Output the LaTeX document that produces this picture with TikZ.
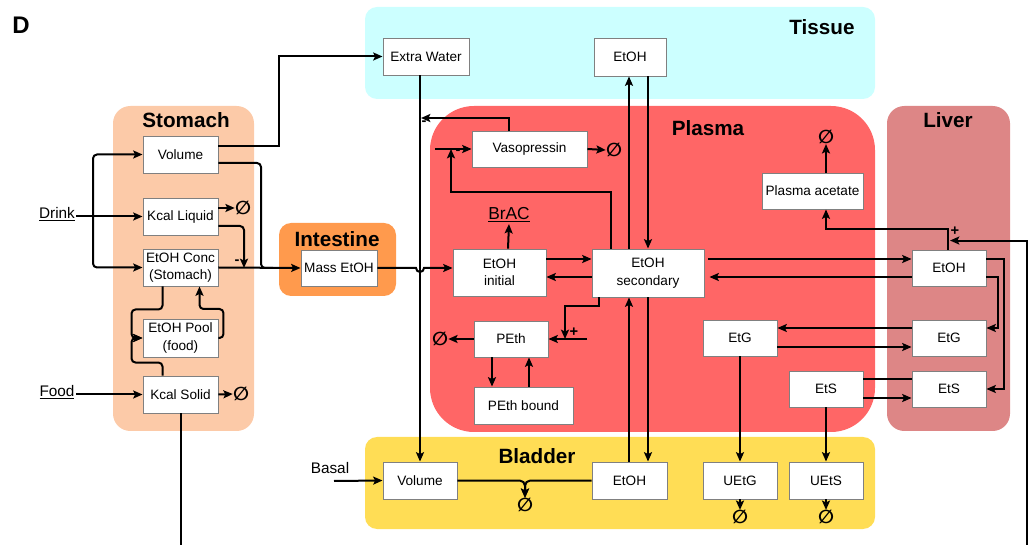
\documentclass[tikz,border=0pt]{standalone}
\usepackage{fontspec}
\setmainfont{Liberation Sans}
\newfontfamily\symfont{DejaVu Sans}
\usetikzlibrary{arrows.meta,calc}
\definecolor{tissuec}{HTML}{CCFFFF}
\definecolor{plasmac}{HTML}{FF6666}
\definecolor{liverc}{HTML}{DD8686}
\definecolor{stomachc}{HTML}{FCCAA8}
\definecolor{intestc}{HTML}{FF9A4D}
\definecolor{bladderc}{HTML}{FFDD55}
\tikzset{
  title/.style={font=\fontsize{15.5}{15.5}\selectfont\bfseries, inner sep=0pt},
  bx/.style 2 args={draw=black!50, line width=0.7pt, fill=white, minimum width=#1*0.75pt, minimum height=#2*0.75pt, inner sep=1pt, align=center, font=\fontsize{10.2}{13}\selectfont},
  conn/.style={line width=1.5pt},
  ar/.style={conn, -{Stealth[length=7pt,width=6pt,inset=1.4pt]}},
  rc/.style={rounded corners=3pt},
  phi/.style={font=\symfont\bfseries\fontsize{14}{14}\selectfont, inner sep=0pt},
  sgn/.style={font=\fontsize{11}{11}\selectfont\bfseries, inner sep=0pt},
  lbl/.style={font=\fontsize{11.5}{13}\selectfont, inner sep=1pt},
}
\begin{document}
\begin{tikzpicture}[x=0.75pt,y=-0.75pt]
\useasboundingbox (0,0) rectangle (1029,545);
% regions
\fill[tissuec, rounded corners=9pt] (365,7) rectangle (875,99);
\fill[plasmac, rounded corners=33pt] (430,106) rectangle (875,432);
\fill[liverc, rounded corners=13pt] (887,106) rectangle (1010,431);
\fill[stomachc, rounded corners=13pt] (113,106) rectangle (254,431);
\fill[intestc, rounded corners=9pt] (279,223) rectangle (396,296);
\fill[bladderc, rounded corners=9pt] (365,437) rectangle (875,529);
% titles
\node[font=\fontsize{18}{18}\selectfont\bfseries, inner sep=0pt] (lblD) at (21,25) {D};
\node[title] (tstom) at (186,120) {Stomach};
\node[title] (tint) at (337,239) {Intestine};
\node[title] (ttis) at (822,27) {Tissue};
\node[title] (tpla) at (708,128) {Plasma};
\node[title] (tliv) at (948,120) {Liver};
\node[title] (tbla) at (537,456) {Bladder};
% boxes
\node[bx={75}{37}] (vol) at (180.5,154.5) {Volume};
\node[bx={75}{37}] (kl) at (180.5,216.5) {Kcal Liquid};
\node[bx={75}{37}] (ec) at (180.5,267.5) {EtOH Conc\\(Stomach)};
\node[bx={75}{38}] (pool) at (180.5,338) {EtOH Pool\\(food)};
\node[bx={75}{37}] (ks) at (180.5,394.5) {Kcal Solid};
\node[bx={76}{36}] (mass) at (339,268) {Mass EtOH};
\node[bx={86}{37}] (ew) at (426,56.5) {Extra Water};
\node[bx={72}{38}] (te) at (630,57) {EtOH};
\node[bx={115}{36}] (vp) at (529.5,149) {Vasopressin};
\node[bx={93}{47}] (ei) at (499.5,272.5) {EtOH\\initial};
\node[bx={112}{48}] (es) at (648,273) {EtOH\\secondary};
\node[bx={74}{36}] (pe) at (511,339) {PEth};
\node[bx={99}{37}] (pb) at (523.5,405.5) {PEth bound};
\node[bx={101}{36}] (pa) at (812.5,191) {Plasma acetate};
\node[bx={74}{36}] (pg) at (740,338) {EtG};
\node[bx={74}{36}] (ps) at (826,389) {EtS};
\node[bx={74}{36}] (le) at (949,268) {EtOH};
\node[bx={74}{36}] (lg) at (949,338) {EtG};
\node[bx={74}{36}] (ls) at (949,389) {EtS};
\node[bx={74}{37}] (bv) at (420,480.5) {Volume};
\node[bx={75}{37}] (be) at (629.5,480.5) {EtOH};
\node[bx={74}{37}] (ueg) at (740,480.5) {UEtG};
\node[bx={74}{37}] (ues) at (826,480.5) {UEtS};
% labels
\node[lbl] (drink) at (57,214) {\underline{Drink}};
\node[lbl] (food) at (57,392) {\underline{Food}};
\node[lbl] (basal) at (330,468) {Basal};
\node[font=\fontsize{13}{13}\selectfont, inner sep=1pt] (brac) at (509,215) {\underline{BrAC}};
% sinks
\node[phi] (phi1) at (243,208) {∅};
\node[phi] (phi2) at (241,394) {∅};
\node[phi] (phi3) at (614,150) {∅};
\node[phi] (phi4) at (525,505) {∅};
\node[phi] (phi5) at (440,339) {∅};
\node[phi] (phi6) at (826,137) {∅};
\node[phi] (phi7) at (740,517) {∅};
\node[phi] (phi8) at (826,517) {∅};
% signs
\node[sgn] (s1) at (237,262) {-};
\node[sgn] (s2) at (424,123) {-};
\node[sgn] (s3) at (458,152) {-};
\node[sgn] (s4) at (574,332) {+};
\node[sgn] (s5) at (955,231) {+};
% coordinates
\coordinate (dj) at (93,216.5);
\coordinate (m1) at (244,268);
\coordinate (m2) at (261,268);
\coordinate (m3) at (279,56.5);
\coordinate (vj) at (421,118);
\coordinate (vin) at (435,149);
\coordinate (vk) at (451,149);
\coordinate (pin) at (587,339);
\coordinate (bin) at (334,481);
\coordinate (kb) at (180.5,545);
\coordinate (rb) at (1027,545);
% stomach connectors
\draw[ar] (drink.east |- kl.west) -- (kl.west);
\draw[ar,rc] (dj) |- (vol.west);
\draw[ar,rc] (dj) |- (ec.west);
\draw[ar] ($(kl.east)+(0,-8.5)$) -- (phi1.west);
\draw[ar,rc] ($(kl.east)+(0,9.5)$) -| (m1);
\draw[ar] (ec.east) -- (mass.west);
\draw[conn,rc] ($(vol.east)+(0,8.5)$) -| (m2) -- ($(m2)+(12,0)$);
\draw[ar] ($(vol.east)+(0,-8.5)$) -| (m3) -- (ew.west);
\draw[ar,rc] ($(ec.south)+(-18,0)$) -- ++(0,23) -| ($(pool.west)+(-11,0)$) -- (pool.west);
\draw[ar,rc] ($(ks.north)+(-18,0)$) -- ++(0,-13) -| ($(pool.west)+(-11,0)$) -- (pool.west);
\draw[ar,rc] (pool.east) -- ++(5,0) -- ++(0,-29) -| ($(ec.south)+(19,0)$);
\draw[ar] (food.east |- ks.west) -- (ks.west);
\draw[ar] (ks.east) -- (phi2.west);
\draw[conn] (ks.south) -- (kb);
% intestine to plasma with hop
\draw[ar] (mass.east) -- ($(mass.east -| bv.north)+(-4,0)$) arc[start angle=180, end angle=0, radius=4] -- (ei.west |- mass.east);
% extra water line
\draw[ar] (ew.south -| bv.north) -- (bv.north);
% vasopressin
\draw[ar] ($(vp.north)+(-20.5,0)$) |- (vj);
\draw[ar] (vp.east) -- (phi3.west);
\draw[ar] (vin) -- (vp.west);
\draw[ar] ($(es.north)+(-37,0)$) |- ($(vk)+(0,43)$) -- (vk);
% EtOH initial / secondary
\draw[ar] ($(ei.east)+(0,-13.5)$) -- ($(es.west)+(0,-14)$);
\draw[ar] ($(es.west)+(0,4)$) -- ($(ei.east)+(0,4.5)$);
\draw[ar] ($(ei.north)+(8.5,0)$) -- (brac.south);
\draw[ar] ($(es.north)+(-19,0)$) -- ($(te.south)+(-1,0)$);
\draw[ar] ($(te.south)+(18,0)$) -- (es.north);
\draw[ar] ($(be.north)+(-0.5,0)$) -- ($(es.south)+(-19,0)$);
\draw[ar] (es.south) -- ($(be.north)+(18.5,0)$);
% PEth
\draw[ar] (pe.west) -- (phi5.east);
\draw[ar] (pin) -- (pe.east);
\draw[ar] ($(es.south)+(-49,0)$) |- ($(pin)+(-22,-33)$) -- ($(pin)+(-22,0)$);
\draw[ar] ($(pe.south)+(-19,0)$) -- ($(pb.north)+(-31.5,0)$);
\draw[ar] ($(pb.north)+(5.5,0)$) -- ($(pe.south)+(18,0)$);
% liver
\draw[ar] ($(pa.north)+(13.5,0)$) -- (phi6.south);
\draw[ar] ($(le.north)+(-1,0)$) |- ($(pa.south)+(13.5,20)$) -- ($(pa.south)+(13.5,0)$);
\draw[ar] (rb) |- ($(le.north)+(1,-9)$);
\draw[ar] ($(es.east)+(4,-14)$) -- ($(le.west)+(0,-9)$);
\draw[ar] ($(le.west)+(0,9)$) -- ($(es.east)+(5,4)$);
\draw[ar] ($(lg.west)+(0,-10)$) -- ($(pg.east)+(0,-10)$);
\draw[ar] ($(pg.east)+(0,9)$) -- ($(lg.west)+(0,9)$);
\draw[conn] ($(ls.west)+(0,-10)$) -- ($(ps.east)+(0,-10)$);
\draw[ar] ($(ps.east)+(0,9)$) -- ($(ls.west)+(0,9)$);
\draw[ar] ($(le.east)+(0,-9)$) -| ($(ls.east)+(18,0)$) -- (ls.east);
\draw[ar] ($(le.east)+(0,9)$) -| ($(lg.east)+(12,-10)$) -- ($(lg.east)+(0,-10)$);
% bladder
\draw[ar] (bin) -- (bv.west);
\draw[ar,rounded corners=4pt] (bv.east) -| (phi4.north);
\draw[ar,rounded corners=4pt] (be.west) -| (phi4.north);
\draw[ar] (pg.south) -- (ueg.north);
\draw[ar] (ps.south) -- (ues.north);
\draw[ar] (ueg.south) -- (phi7.north);
\draw[ar] (ues.south) -- (phi8.north);
\end{tikzpicture}
\end{document}
